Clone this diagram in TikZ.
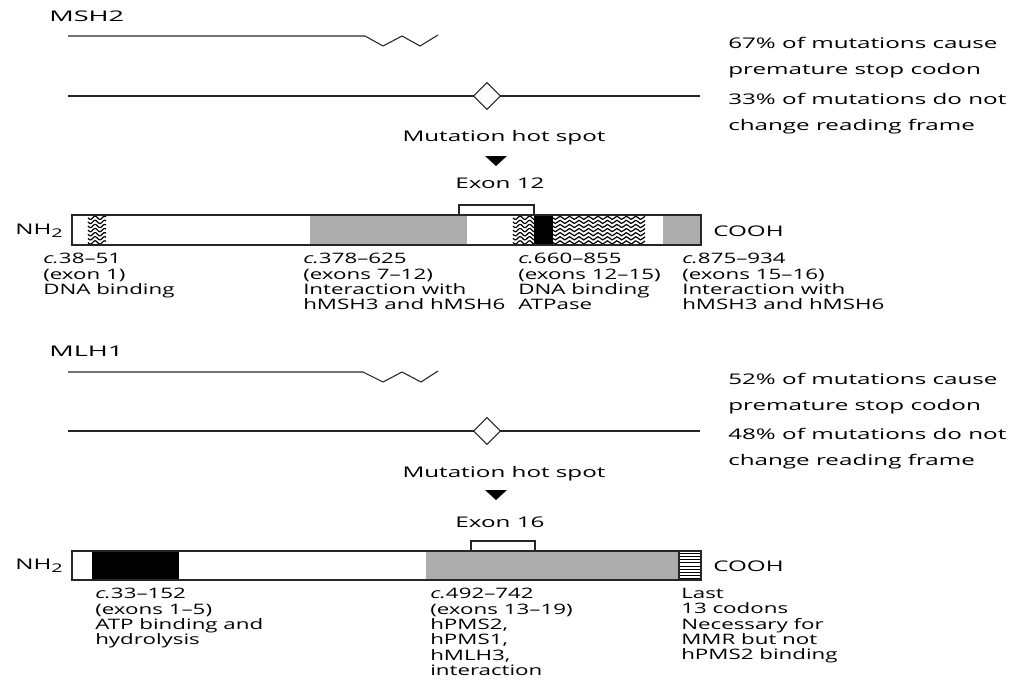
\documentclass[tikz,border=0pt]{standalone}
\usepackage{fontspec}
\setmainfont{Open Sans}[FakeStretch=1.55]
\newfontfamily\widefont{Open Sans}[FakeStretch=1.65]
\newfontfamily\genefont{Open Sans}[FakeStretch=1.85]
\usetikzlibrary{positioning}

\newcommand{\subtwo}{\raisebox{-0.35ex}{\fontsize{9}{9}\selectfont 2}}

\begin{document}
\begin{tikzpicture}[x=0.75pt, y=-0.75pt,
        txt/.style={inner sep=0pt, font=\widefont\fontsize{11}{12}\selectfont},
        gname/.style={txt, anchor=west, font=\genefont\fontsize{11}{12}\selectfont},
        note/.style={txt, anchor=north west, align=left, font=\widefont\fontsize{11}{19.5}\selectfont},
        dom/.style={txt, anchor=north west, align=left, font=\fontsize{10.8}{11.5}\selectfont},
        track/.style={line width=0.8pt, black!85},
        frame/.style={draw, line width=0.8pt, black!85},
        shade/.style={fill=black!32},
        wave/.style={line width=0.9pt}
    ]
        \useasboundingbox (0,0) rectangle (1016,682);

        % MSH2 mutation tracks
        \node[gname] (msh2) at (49,16) {MSH2};
        \coordinate (ma1) at (68,36);
        \coordinate (ma2) at (438,35);
        \draw[track] (ma1) -- (365,36) -- (383,46) -- (402,36) -- (420,46) -- (ma2);
        \coordinate (mb1) at (68,96);
        \coordinate (mb2) at (700,96);
        \coordinate (mdia) at (487,96);
        \draw[track] (mb1) -- ([xshift=-10]mdia);
        \draw[track] ([xshift=10]mdia) -- (mb2);
        \draw[track] ([xshift=-10]mdia) -- ([yshift=-10]mdia) -- ([xshift=10]mdia) -- ([yshift=10]mdia) -- cycle;
        \node[note] (mstop) at (728,37) {67\% of mutations cause\\premature stop codon};
        \node[note] (mframe) at (728,93) {33\% of mutations do not\\change reading frame};

        % MSH2 hot spot
        \node[txt] (mhot) at (504,138) {Mutation hot spot};
        \fill (485,156) -- (507,156) -- (496,166) -- cycle;
        \node[txt] (mexon) at (500,183) {Exon 12};

        % MSH2 protein bar
        \draw[frame, fill=white] (459,205) rectangle (534,215);
        \fill[shade] (310,215) rectangle (467,245);
        \fill[shade] (663,215) rectangle (701,245);
        \fill (534,215) rectangle (553,245);
        \foreach \xa/\xb in {88/106, 513/534, 553/645}
            \foreach \k in {0,...,6}
                \draw[wave] plot[domain=\xa:\xb, samples=40, smooth]
                    (\x, {217.8 + \k*4.1 + 1.6*sin((\x-\xa)*38)});
        \draw[frame] (72,215) rectangle (701,245);
        \node[txt, anchor=east] (nha) at (63,231) {NH\subtwo};
        \node[txt, anchor=west] (cooa) at (713,231) {COOH};

        % MSH2 domains
        \node[dom] (d1) at (43,253) {\textit{c.}38–51\\(exon 1)\\DNA binding};
        \node[dom] (d2) at (303,253) {\textit{c.}378–625\\(exons 7–12)\\Interaction with\\hMSH3 and hMSH6};
        \node[dom] (d3) at (518,253) {\textit{c.}660–855\\(exons 12–15)\\DNA binding\\ATPase};
        \node[dom] (d4) at (682,253) {\textit{c.}875–934\\(exons 15–16)\\Interaction with\\hMSH3 and hMSH6};

        % MLH1 mutation tracks
        \node[gname] (mlh1) at (49,351) {MLH1};
        \coordinate (la1) at (68,372);
        \coordinate (la2) at (438,371);
        \draw[track] (la1) -- (363,372) -- (383,382) -- (402,372) -- (421,382) -- (la2);
        \coordinate (lb1) at (68,431);
        \coordinate (lb2) at (700,431);
        \coordinate (ldia) at (487,431);
        \draw[track] (lb1) -- ([xshift=-10]ldia);
        \draw[track] ([xshift=10]ldia) -- (lb2);
        \draw[track] ([xshift=-10]ldia) -- ([yshift=-10]ldia) -- ([xshift=10]ldia) -- ([yshift=10]ldia) -- cycle;
        \node[note] (lstop) at (728,373) {52\% of mutations cause\\premature stop codon};
        \node[note] (lframe) at (728,428) {48\% of mutations do not\\change reading frame};

        % MLH1 hot spot
        \node[txt] (lhot) at (504,474) {Mutation hot spot};
        \fill (485,490) -- (507,490) -- (496,500) -- cycle;
        \node[txt] (lexon) at (500,522) {Exon 16};

        % MLH1 protein bar
        \draw[frame, fill=white] (471,541) rectangle (535,551);
        \fill (92,551) rectangle (179,580);
        \fill[shade] (426,551) rectangle (679,580);
        \foreach \k in {0,...,8}
            \draw[line width=0.5pt] (679,553.5+\k*3.1) -- (701,553.5+\k*3.1);
        \draw[frame] (679,551) -- (679,580);
        \draw[frame] (72,551) rectangle (701,580);
        \node[txt, anchor=east] (nhb) at (63,566) {NH\subtwo};
        \node[txt, anchor=west] (coob) at (713,566) {COOH};

        % MLH1 domains
        \node[dom] (e1) at (95,588) {\textit{c.}33–152\\(exons 1–5)\\ATP binding and\\hydrolysis};
        \node[dom] (e2) at (430,588) {\textit{c.}492–742\\(exons 13–19)\\hPMS2,\\hPMS1,\\hMLH3,\\interaction};
        \node[dom] (e3) at (681,588) {Last\\13 codons\\Necessary for\\MMR but not\\hPMS2 binding};
    \end{tikzpicture}
\end{document}
